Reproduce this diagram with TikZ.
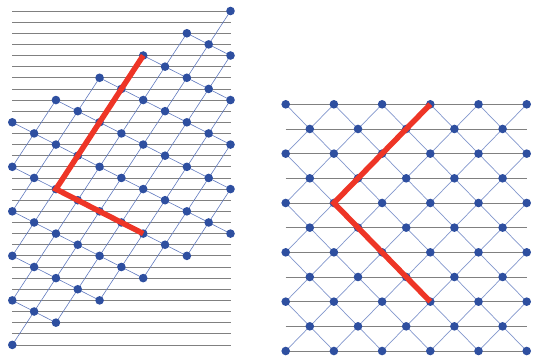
\documentclass[tikz,border=0pt]{standalone}
\pgfdeclarelayer{bg}
\pgfdeclarelayer{mid}
\pgfsetlayers{bg,mid,main}
\definecolor{dotblue}{HTML}{2E4FA0}
\definecolor{edgeblue}{HTML}{6079BE}
\definecolor{edgelight}{HTML}{8196CC}
\definecolor{redpath}{HTML}{EE3526}
\definecolor{rulegray}{HTML}{808080}
\begin{document}
\begin{tikzpicture}[x=1pt,y=-1pt,
  dot/.style={circle,fill=dotblue,inner sep=0pt,minimum size=8.6pt},
  hrule/.style={draw=rulegray,line width=0.8pt},
  lattice/.style={draw=edgeblue,line width=0.6pt},
  latticeR/.style={draw=edgelight,line width=0.7pt},
  redline/.style={draw=redpath,line width=5.5pt,line cap=butt,line join=miter}]
\useasboundingbox (0,0) rectangle (535,358);

% ---------- left lattice ----------
\foreach \n in {0,...,30}{
  \coordinate (Lw-\n) at (12.3,11+11.13*\n);
  \coordinate (Le-\n) at (230.5,11+11.13*\n);
}
\foreach \m in {0,...,10}{
  \foreach \n in {0,...,30}{
    \pgfmathtruncatemacro\c{mod(\n+3*\m,4)}
    \pgfmathtruncatemacro\s{\m+\n}
    \ifnum\c=2 \ifnum\s>9 \ifnum\s<31
      \node[dot] (L-\m-\n) at (12.3+21.82*\m, 11+11.13*\n) {};
    \fi\fi\fi
  }
}
\begin{pgfonlayer}{bg}
\foreach \n in {0,...,30}{
  \draw[hrule] (Lw-\n) -- (Le-\n);
}
\end{pgfonlayer}
\begin{pgfonlayer}{mid}
\foreach \m in {0,...,10}{
  \foreach \n in {0,...,30}{
    \pgfmathtruncatemacro\c{mod(\n+3*\m,4)}
    \pgfmathtruncatemacro\s{\m+\n}
    \ifnum\c=2 \ifnum\s>9 \ifnum\s<29
      \pgfmathtruncatemacro\ma{\m-1}
      \pgfmathtruncatemacro\na{\n+3}
      \pgfmathtruncatemacro\mb{\m+1}
      \pgfmathtruncatemacro\nb{\n+1}
      \ifnum\m>0 \ifnum\na<31 \draw[lattice] (L-\m-\n.center) -- (L-\ma-\na.center); \fi\fi
      \ifnum\m<10 \ifnum\nb<31 \draw[lattice] (L-\m-\n.center) -- (L-\mb-\nb.center); \fi\fi
    \fi\fi\fi
  }
}
\end{pgfonlayer}

% ---------- right lattice ----------
\foreach \r in {0,...,10}{
  \coordinate (Rw-\r) at (285.7,104.3+24.67*\r);
  \coordinate (Re-\r) at (526.7,104.3+24.67*\r);
}
\foreach \r in {0,...,10}{
  \foreach \c in {0,...,10}{
    \pgfmathtruncatemacro\p{mod(\r+\c,2)}
    \ifnum\p=0
      \node[dot] (R-\r-\c) at (285.7+24.1*\c, 104.3+24.67*\r) {};
    \fi
  }
}
\begin{pgfonlayer}{bg}
\foreach \r in {0,...,10}{
  \draw[hrule] (Rw-\r) -- (Re-\r);
}
\end{pgfonlayer}
\begin{pgfonlayer}{mid}
\foreach \r in {0,...,9}{
  \foreach \c in {0,...,10}{
    \pgfmathtruncatemacro\p{mod(\r+\c,2)}
    \ifnum\p=0
      \pgfmathtruncatemacro\rn{\r+1}
      \pgfmathtruncatemacro\cp{\c+1}
      \pgfmathtruncatemacro\cm{\c-1}
      \ifnum\c<10 \draw[latticeR] (R-\r-\c.center) -- (R-\rn-\cp.center); \fi
      \ifnum\c>0 \draw[latticeR] (R-\r-\c.center) -- (R-\rn-\cm.center); \fi
    \fi
  }
}
\end{pgfonlayer}

% ---------- red paths ----------
\draw[redline] (L-6-4.center) -- (L-2-16.center) -- (L-6-20.center);
\draw[redline] (R-0-6.center) -- (R-4-2.center) -- (R-8-6.center);
\end{tikzpicture}
\end{document}
